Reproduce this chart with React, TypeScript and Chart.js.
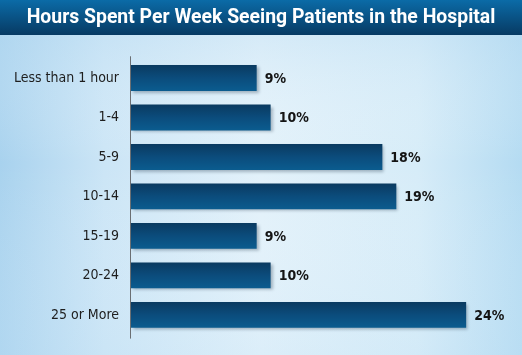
import React, { useEffect, useRef } from "react";
import { Chart, registerables } from "chart.js";

Chart.register(...registerables);

const TITLE = "Hours Spent Per Week Seeing Patients in the Hospital";
const categories = ["Less than 1 hour", "1-4", "5-9", "10-14", "15-19", "20-24", "25 or More"];
const values = [9, 10, 18, 19, 9, 10, 24];
const valueLabels = ["9%", "10%", "18%", "19%", "9%", "10%", "24%"];

const NARROW = '"DejaVu Sans Condensed", "Roboto", sans-serif';

export default function App() {
  const ref = useRef<HTMLCanvasElement>(null);

  useEffect(() => {
    if (!ref.current) return;

    const bgPlugin = {
      id: "bg",
      beforeDraw(chart: any) {
        const { ctx, width, height } = chart;
        ctx.save();
        const g = ctx.createLinearGradient(0, 0, width, 0);
        g.addColorStop(0, "#a8d2ee");
        g.addColorStop(0.2, "#cbe5f6");
        g.addColorStop(0.5, "#e2f1fa");
        g.addColorStop(0.8, "#d6ecf8");
        g.addColorStop(1, "#b4dbf2");
        ctx.fillStyle = g;
        ctx.fillRect(0, 0, width, height);
        const v = ctx.createLinearGradient(0, 35, 0, height);
        v.addColorStop(0, "rgba(190,222,243,0.35)");
        v.addColorStop(0.4, "rgba(255,255,255,0)");
        v.addColorStop(1, "rgba(200,228,246,0.25)");
        ctx.fillStyle = v;
        ctx.fillRect(0, 35, width, height - 35);
        const t = ctx.createLinearGradient(0, 0, 0, 35);
        t.addColorStop(0, "#0b6ba7");
        t.addColorStop(1, "#073a63");
        ctx.fillStyle = t;
        ctx.fillRect(0, 0, width, 35);
        ctx.restore();
      },
    };

    const shadowPlugin = {
      id: "barShadow",
      beforeDatasetsDraw(chart: any) {
        const ctx = chart.ctx;
        ctx.save();
        ctx.shadowColor = "rgba(40,60,80,0.35)";
        ctx.shadowOffsetX = 2;
        ctx.shadowOffsetY = 2;
        ctx.shadowBlur = 3;
      },
      afterDatasetsDraw(chart: any) {
        chart.ctx.restore();
      },
    };

    const labelPlugin = {
      id: "labelsAxis",
      afterDatasetsDraw(chart: any) {
        const { ctx, chartArea } = chart;
        ctx.save();
        ctx.strokeStyle = "#6b6f73";
        ctx.lineWidth = 1;
        ctx.beginPath();
        ctx.moveTo(chartArea.left - 0.5, chartArea.top - 2);
        ctx.lineTo(chartArea.left - 0.5, chartArea.bottom + 4);
        ctx.stroke();
        const meta = chart.getDatasetMeta(0);
        ctx.fillStyle = "#141414";
        ctx.font = `bold 14px ${NARROW}`;
        ctx.textAlign = "left";
        ctx.textBaseline = "middle";
        meta.data.forEach((bar: any, i: number) => {
          ctx.fillText(valueLabels[i], bar.x + 8, bar.y + 1);
        });
        ctx.restore();
      },
    };

    const chart = new Chart(ref.current, {
      type: "bar",
      data: {
        labels: categories,
        datasets: [
          {
            data: values,
            backgroundColor: (c: any) => {
              const y = c.chart.scales?.y;
              if (!y || c.dataIndex == null) return "#0a4a78";
              const cy = y.getPixelForValue(c.dataIndex);
              if (!Number.isFinite(cy)) return "#0a4a78";
              const g = c.chart.ctx.createLinearGradient(0, cy - 13, 0, cy + 13);
              g.addColorStop(0, "#0a3a60");
              g.addColorStop(0.5, "#0b4c7c");
              g.addColorStop(1, "#0b5c8f");
              return g;
            },
            borderWidth: 0,
            barPercentage: 0.655,
            categoryPercentage: 1,
          },
        ],
      },
      options: {
        indexAxis: "y",
        responsive: false,
        animation: false,
        layout: { padding: { top: 0, bottom: 19, right: 0, left: 0 } },
        plugins: {
          legend: { display: false },
          tooltip: { enabled: false },
          title: {
            display: true,
            text: TITLE,
            color: "#ffffff",
            font: { family: "Roboto, sans-serif", size: 19.4, weight: "bold", lineHeight: 1.2 },
            padding: { top: 7, bottom: 28 },
          },
        },
        scales: {
          x: { display: false, min: 0, max: 28 },
          y: {
            position: "left",
            grid: { display: false, drawTicks: false },
            border: { display: false },
            ticks: { color: "#1e1e1e", font: { family: NARROW, size: 14 }, padding: 12 },
            afterFit(s: any) {
              s.width = 131;
            },
          },
        },
      },
      plugins: [bgPlugin, shadowPlugin, labelPlugin],
    } as any);

    return () => chart.destroy();
  }, []);

  return (
    <div style={{ position: "fixed", left: 0, top: 0, width: 522, height: 355 }}>
      <canvas ref={ref} width={522} height={355} />
    </div>
  );
}
